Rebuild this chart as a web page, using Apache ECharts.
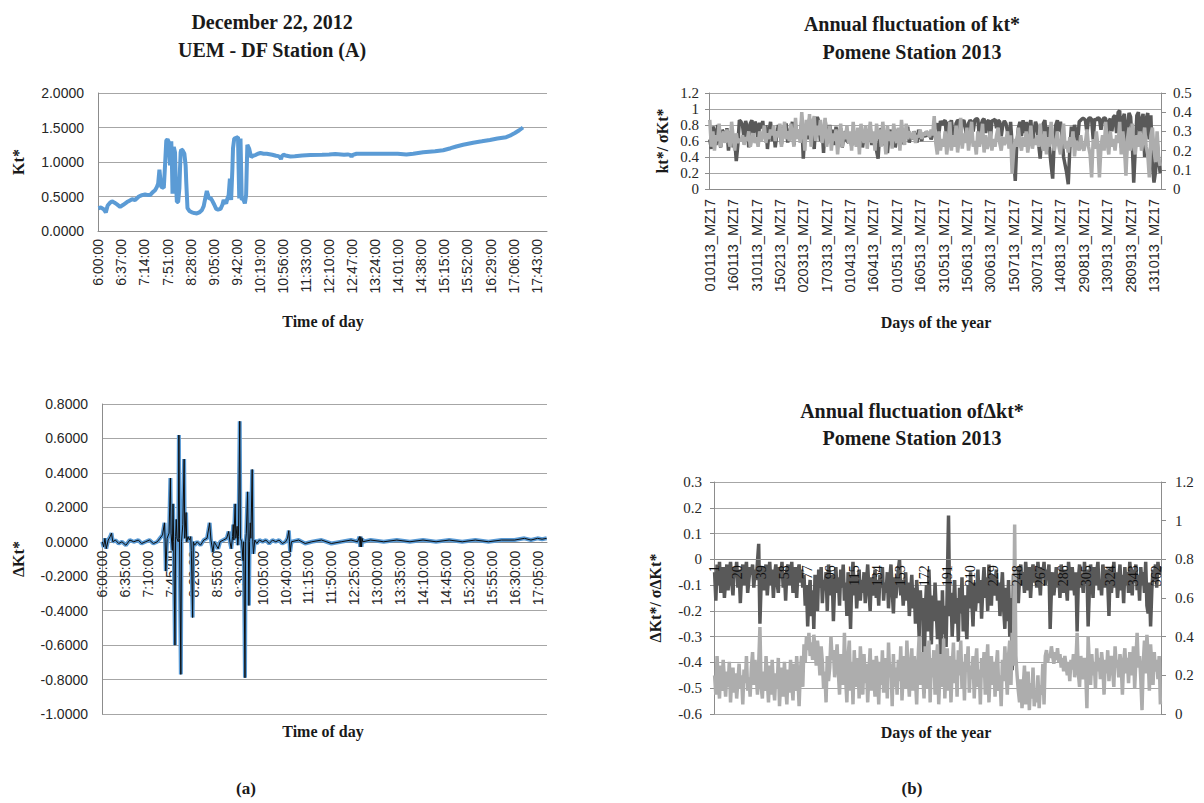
<!DOCTYPE html>
<html><head><meta charset="utf-8">
<script src="https://cdn.jsdelivr.net/npm/echarts@6/dist/echarts.min.js"></script>
<style>html,body{margin:0;padding:0;background:#fff}#c{width:1204px;height:803px}</style>
</head><body><div id="c"></div>
<script>
// ===== Panel (a) top: Kt*, Dec 22 2012 (minutes after 6:00) =====
const ktMinutes = [0,4,8,10,12,15,19,22,26,30,35,40,46,50,54,59,65,70,75,80,83,87,91,94,96,98,100,101,105,107,109,111,113,114,115,116,117,118,119,120,121,123,124,126,128,130,131,132,133,135,138,140,141,143,146,150,154,158,162,166,169,171,174,176,177,180,182,186,189,192,196,199,201,203,205,207,209,211,212,213,215,216,218,221,224,225,226,227,228,229,230,232,235,237,238,239,242,245,248,252,256,260,265,270,279,285,289,292,293,294,297,302,308,315,327,340,359,370,380,394,400,405,406,407,414,430,450,467,480,494,505,521,540,553,565,574,585,601,615,628,640,654,662,668,675,681];
const ktValues  = [0.33,0.34,0.32,0.30,0.27,0.37,0.41,0.43,0.41,0.385,0.35,0.38,0.42,0.44,0.46,0.45,0.50,0.52,0.53,0.52,0.52,0.56,0.59,0.64,0.69,0.89,0.70,0.64,0.625,0.95,1.31,1.33,1.29,1.10,0.95,1.20,1.30,1.00,0.54,0.90,1.22,1.14,0.80,0.42,0.42,0.62,0.90,1.14,1.18,1.17,1.12,0.95,0.71,0.33,0.29,0.27,0.26,0.255,0.27,0.30,0.36,0.45,0.58,0.52,0.47,0.48,0.45,0.38,0.32,0.31,0.32,0.38,0.45,0.42,0.40,0.47,0.52,0.76,0.50,0.45,0.90,1.20,1.34,1.35,1.36,0.90,0.47,0.90,1.34,0.90,0.45,0.47,0.40,0.52,0.90,1.25,1.19,1.07,1.09,1.10,1.12,1.13,1.12,1.12,1.105,1.09,1.085,1.06,1.04,1.08,1.105,1.09,1.08,1.085,1.095,1.10,1.105,1.11,1.115,1.105,1.11,1.10,1.07,1.10,1.12,1.12,1.12,1.12,1.12,1.11,1.12,1.14,1.155,1.17,1.20,1.225,1.25,1.28,1.30,1.32,1.34,1.36,1.39,1.42,1.46,1.50];
const ktCategoryCount = 720;   // 6:00 .. 17:59, one per minute
const ktLabelEvery = 37;

// ===== Panel (a) bottom: ΔKt* =====
const dktMinutes = [0,2,4,6,9,12,14,16,20,25,30,36,42,48,55,60,66,72,78,84,88,92,95,96,97,99,102,104,105,107,108,109,111,112,113,114,116,117,118,120,121,123,125,126,128,129,131,133,135,136,138,139,141,145,150,155,160,164,166,169,171,174,177,180,185,190,193,195,197,199,200,201,203,204,206,207,208,210,211,213,215,216,218,219,220,222,223,224,225,226,227,229,230,231,233,236,240,245,250,255,260,265,270,275,280,283,285,286,287,289,300,310,320,335,350,365,380,390,393,394,395,396,397,398,410,430,450,470,490,510,530,550,570,590,610,630,645,655,665,672,679];
const dktValues  = [0.00,-0.03,0.02,-0.04,0.01,0.03,0.05,0.00,0.01,-0.01,0.00,-0.02,0.01,0.00,0.01,-0.01,0.00,0.01,-0.01,0.00,0.02,0.04,0.11,0.00,-0.17,0.02,0.05,0.37,0.05,-0.05,0.22,0.00,-0.60,0.03,0.13,0.02,0.00,0.62,0.02,-0.77,0.00,0.10,0.48,0.02,0.17,0.00,0.03,0.01,0.03,-0.05,-0.44,0.00,-0.02,0.00,-0.02,0.01,0.02,0.11,0.01,-0.06,0.00,-0.02,-0.04,0.00,0.01,0.02,0.06,0.00,-0.04,0.03,0.10,0.01,0.22,0.02,0.09,-0.02,0.03,0.70,0.02,0.00,-0.11,0.00,-0.79,0.00,0.05,0.29,0.01,-0.37,0.00,0.11,0.02,0.42,0.00,-0.07,0.01,-0.01,0.01,0.00,0.01,-0.01,0.01,0.00,0.01,-0.01,0.00,0.02,0.065,0.00,-0.06,0.00,0.01,-0.01,0.00,0.01,-0.01,0.00,0.01,0.00,0.03,-0.03,0.03,-0.03,0.02,0.00,0.01,0.00,0.01,0.00,0.01,0.00,0.01,0.00,0.01,0.00,0.01,0.01,0.02,0.01,0.02,0.015,0.02];
const dktCategoryCount = 680;  // 6:00 .. 17:19
const dktLabelEvery = 35;

// ===== Panel (b) top: kt* and σKt*, Pomene 2013 (daily from 1 Jan) =====
const pomeneStartLabelSuffix = '13_MZ17';
const pomeneDays = 290;
const pomeneLabelEvery = 15;
const ktDaily = [
0.62,0.50,0.78,0.72,0.55,0.80,0.66,0.52,0.74,0.70,
0.58,0.76,0.48,0.68,0.73,0.52,0.62,0.35,0.55,0.86,
0.84,0.80,0.62,0.85,0.78,0.52,0.82,0.86,0.70,0.84,
0.80,0.58,0.83,0.76,0.85,0.64,0.80,0.50,0.72,0.84,
0.60,0.74,0.52,0.68,0.80,0.72,0.56,0.78,0.66,0.82,
0.58,0.75,0.70,0.84,0.55,0.80,0.68,0.74,0.62,0.85,
0.38,0.72,0.80,0.62,0.88,0.66,0.76,0.50,0.82,0.90,
0.84,0.60,0.78,0.45,0.86,0.70,0.58,0.80,0.66,0.74,
0.55,0.78,0.62,0.70,0.76,0.52,0.66,0.72,0.60,0.58,
0.68,0.54,0.72,0.62,0.56,0.74,0.60,0.70,0.52,0.66,
0.72,0.58,0.64,0.75,0.55,0.68,0.62,0.48,0.38,0.70,
0.76,0.62,0.55,0.72,0.45,0.68,0.74,0.58,0.70,0.52,
0.66,0.75,0.60,0.72,0.56,0.70,0.64,0.78,0.58,0.68,
0.62,0.72,0.66,0.58,0.74,0.68,0.60,0.70,0.65,0.72,
0.66,0.70,0.62,0.68,0.74,0.78,0.82,0.70,0.85,0.80,
0.84,0.86,0.62,0.84,0.80,0.86,0.70,0.58,0.82,0.86,
0.85,0.66,0.84,0.86,0.78,0.60,0.82,0.86,0.84,0.72,
0.86,0.88,0.87,0.64,0.80,0.86,0.88,0.70,0.84,0.86,
0.62,0.85,0.86,0.87,0.76,0.86,0.84,0.66,0.80,0.85,
0.82,0.72,0.60,0.84,0.55,0.40,0.10,0.58,0.76,0.84,
0.66,0.86,0.70,0.84,0.62,0.80,0.86,0.58,0.72,0.84,
0.78,0.56,0.38,0.70,0.82,0.86,0.62,0.78,0.50,0.30,
0.13,0.60,0.80,0.86,0.72,0.84,0.66,0.40,0.30,0.20,
0.06,0.50,0.78,0.62,0.80,0.72,0.58,0.84,0.86,0.88,
0.88,0.86,0.70,0.88,0.89,0.87,0.62,0.88,0.86,0.89,
0.88,0.74,0.86,0.89,0.88,0.60,0.84,0.88,0.72,0.90,
0.92,0.70,0.96,0.98,0.52,0.88,0.94,0.30,0.80,0.95,
0.90,0.60,0.08,0.50,0.92,0.96,0.70,0.86,0.94,0.40,
0.88,0.95,0.62,0.92,0.30,0.08,0.22,0.60,0.35,0.20];
const sigmaKtDaily = [
0.36,0.22,0.30,0.20,0.28,0.25,0.34,0.22,0.27,0.30,
0.24,0.31,0.26,0.22,0.35,0.27,0.20,0.29,0.24,0.26,
0.25,0.28,0.23,0.27,0.25,0.30,0.22,0.26,0.29,0.24,
0.27,0.22,0.30,0.25,0.28,0.33,0.24,0.29,0.26,0.31,
0.28,0.33,0.25,0.30,0.27,0.34,0.22,0.29,0.35,0.26,
0.30,0.25,0.34,0.28,0.22,0.37,0.26,0.31,0.24,0.40,
0.30,0.20,0.36,0.28,0.39,0.22,0.34,0.38,0.25,0.33,
0.28,0.36,0.24,0.30,0.37,0.22,0.27,0.33,0.20,0.29,
0.25,0.31,0.18,0.28,0.34,0.22,0.30,0.26,0.33,0.24,
0.30,0.20,0.35,0.26,0.22,0.32,0.18,0.34,0.28,0.24,
0.33,0.21,0.28,0.35,0.24,0.30,0.20,0.34,0.26,0.31,
0.22,0.35,0.27,0.18,0.33,0.25,0.30,0.21,0.34,0.27,
0.24,0.32,0.20,0.36,0.27,0.23,0.34,0.26,0.30,0.28,
0.26,0.30,0.24,0.28,0.27,0.31,0.26,0.29,0.28,0.30,
0.29,0.27,0.31,0.28,0.38,0.24,0.18,0.30,0.20,0.26,
0.22,0.30,0.18,0.25,0.35,0.20,0.28,0.22,0.33,0.19,
0.26,0.37,0.21,0.29,0.24,0.32,0.20,0.27,0.35,0.22,
0.25,0.18,0.30,0.22,0.26,0.34,0.19,0.28,0.21,0.24,
0.30,0.20,0.26,0.22,0.28,0.32,0.24,0.20,0.27,0.23,
0.25,0.30,0.21,0.28,0.08,0.20,0.26,0.22,0.32,0.24,
0.20,0.27,0.22,0.30,0.19,0.25,0.33,0.21,0.26,0.23,
0.28,0.22,0.34,0.24,0.20,0.30,0.18,0.27,0.22,0.35,
0.26,0.20,0.24,0.30,0.22,0.18,0.28,0.34,0.21,0.25,
0.19,0.27,0.22,0.30,0.17,0.25,0.23,0.20,0.28,0.22,
0.20,0.24,0.31,0.22,0.18,0.06,0.26,0.21,0.30,0.23,
0.06,0.22,0.28,0.20,0.35,0.24,0.18,0.30,0.22,0.26,
0.20,0.28,0.24,0.35,0.18,0.30,0.22,0.07,0.26,0.32,
0.20,0.34,0.24,0.18,0.28,0.22,0.30,0.20,0.25,0.32,
0.22,0.18,0.06,0.28,0.32,0.20,0.14,0.30,0.16,0.12];

// ===== Panel (b) bottom: Δkt* and σΔKt*, days 1..365 =====
const dayCount = 365;
const dayLabelEvery = 19;
const dktDaily = [
-0.05,-0.16,-0.02,-0.10,-0.01,-0.13,-0.06,-0.03,-0.15,-0.08,
-0.02,-0.12,-0.05,-0.01,-0.09,-0.14,-0.03,-0.07,-0.01,-0.11,
-0.04,-0.17,-0.06,-0.02,-0.10,-0.05,-0.01,-0.13,-0.08,-0.03,
-0.06,-0.02,-0.11,-0.04,-0.08,-0.01,0.06,-0.25,-0.09,-0.03,
-0.12,-0.05,-0.02,-0.14,-0.07,-0.01,-0.10,-0.04,-0.15,-0.06,
-0.02,-0.09,-0.13,-0.03,-0.07,-0.01,-0.11,-0.05,-0.16,-0.04,
-0.02,-0.10,-0.06,-0.01,-0.13,-0.08,-0.03,-0.15,-0.05,-0.02,
-0.09,-0.04,-0.11,-0.06,-0.18,-0.10,-0.26,-0.14,-0.08,-0.22,
-0.12,-0.27,-0.06,-0.15,-0.20,-0.04,-0.11,-0.03,-0.17,-0.08,
-0.12,-0.05,-0.20,-0.02,-0.09,-0.14,-0.06,-0.24,-0.10,-0.03,
-0.13,-0.07,-0.18,-0.04,-0.11,-0.02,-0.16,-0.09,-0.22,-0.05,
-0.12,-0.27,-0.08,-0.01,-0.14,-0.06,-0.19,-0.10,-0.04,-0.16,
-0.08,-0.13,-0.05,-0.17,-0.09,-0.02,-0.12,-0.20,-0.07,-0.14,
-0.10,-0.04,-0.15,-0.08,-0.18,-0.06,-0.11,-0.03,-0.16,-0.09,
-0.13,-0.05,-0.19,-0.08,-0.02,-0.12,-0.21,-0.07,-0.15,-0.10,
-0.04,0.00,-0.14,-0.08,-0.18,-0.11,-0.05,-0.16,-0.09,-0.22,
-0.13,-0.06,-0.19,-0.11,-0.25,-0.08,-0.17,-0.30,-0.12,-0.22,
-0.15,-0.52,-0.20,-0.10,-0.28,-0.04,-0.18,-0.33,-0.14,-0.24,
-0.09,-0.20,-0.31,-0.16,-0.26,-0.45,-0.12,-0.29,-0.18,-0.34,
-0.10,0.17,-0.22,-0.13,-0.30,-0.19,-0.08,-0.25,-0.15,-0.32,
-0.11,-0.21,-0.07,-0.28,-0.14,-0.24,-0.31,-0.10,-0.19,-0.05,
-0.16,-0.26,-0.09,-0.20,-0.13,-0.04,-0.17,-0.08,-0.23,-0.11,
-0.03,-0.15,-0.07,-0.20,-0.02,-0.12,-0.18,-0.06,-0.14,-0.10,
-0.04,-0.16,-0.09,-0.22,-0.13,-0.05,-0.19,-0.27,-0.11,-0.24,
-0.08,-0.30,-0.15,-0.43,-0.06,-0.20,-0.12,-0.03,-0.17,-0.07,
-0.02,-0.10,-0.05,-0.13,-0.01,-0.08,-0.12,-0.03,-0.15,-0.06,
-0.02,-0.09,-0.04,-0.11,-0.01,-0.07,-0.14,-0.03,-0.06,-0.01,
-0.10,-0.04,-0.08,-0.02,-0.27,-0.12,-0.05,-0.14,-0.09,-0.03,
-0.11,-0.06,-0.15,-0.02,-0.08,-0.13,-0.04,-0.10,-0.16,-0.01,
-0.07,-0.12,-0.03,-0.09,-0.14,-0.05,-0.28,-0.08,-0.02,-0.11,
-0.06,-0.13,-0.01,-0.09,-0.04,-0.26,-0.12,-0.02,-0.07,-0.15,
-0.03,-0.10,-0.05,-0.01,-0.12,-0.08,-0.14,-0.02,-0.06,-0.11,
-0.04,-0.09,-0.22,-0.03,-0.13,-0.07,-0.01,-0.11,-0.05,-0.15,
-0.08,-0.02,-0.12,-0.06,-0.17,-0.03,-0.10,-0.05,-0.13,-0.01,
-0.07,-0.14,-0.04,-0.09,-0.02,-0.12,-0.06,-0.16,-0.03,-0.10,
-0.05,-0.13,-0.01,-0.18,-0.21,-0.09,-0.26,-0.12,-0.04,-0.08,
-0.02,-0.11,-0.01,-0.06,-0.03];
const sigmaDktDaily = [
0.20,0.10,0.30,0.16,0.08,0.25,0.12,0.28,0.18,0.09,
0.22,0.14,0.27,0.06,0.19,0.24,0.11,0.21,0.08,0.17,
0.26,0.13,0.20,0.05,0.23,0.16,0.30,0.12,0.19,0.09,
0.24,0.32,0.15,0.28,0.20,0.10,0.26,0.45,0.14,0.08,
0.22,0.12,0.30,0.18,0.06,0.25,0.10,0.28,0.15,0.07,
0.21,0.13,0.29,0.04,0.18,0.24,0.09,0.27,0.14,0.05,
0.23,0.11,0.28,0.16,0.07,0.26,0.12,0.30,0.19,0.04,
0.22,0.30,0.14,0.36,0.27,0.40,0.33,0.42,0.30,0.37,
0.28,0.41,0.34,0.25,0.38,0.31,0.20,0.35,0.27,0.13,
0.22,0.06,0.30,0.17,0.24,0.40,0.28,0.33,0.19,0.26,
0.36,0.22,0.10,0.31,0.25,0.15,0.42,0.18,0.06,0.30,
0.38,0.12,0.27,0.05,0.33,0.20,0.14,0.29,0.08,0.35,
0.23,0.10,0.31,0.16,0.26,0.06,0.21,0.34,0.12,0.28,
0.18,0.09,0.30,0.24,0.05,0.27,0.15,0.33,0.11,0.22,
0.29,0.08,0.37,0.19,0.26,0.04,0.31,0.14,0.24,0.10,
0.28,0.17,0.35,0.07,0.22,0.30,0.13,0.38,0.20,0.09,
0.26,0.34,0.12,0.30,0.18,0.05,0.27,0.40,0.15,0.32,
0.21,0.08,0.35,0.25,0.13,0.38,0.06,0.29,0.19,0.33,
0.10,0.27,0.36,0.05,0.22,0.31,0.14,0.39,0.08,0.26,
0.34,0.12,0.30,0.06,0.24,0.37,0.16,0.28,0.09,0.33,
0.20,0.38,0.13,0.27,0.07,0.31,0.22,0.35,0.11,0.25,
0.18,0.30,0.08,0.26,0.34,0.14,0.23,0.05,0.29,0.19,
0.32,0.10,0.24,0.36,0.06,0.21,0.30,0.15,0.27,0.09,
0.25,0.33,0.12,0.20,0.04,0.28,0.17,0.35,0.22,0.10,
0.30,0.38,0.15,0.42,0.25,0.98,0.30,0.20,0.12,0.06,
0.18,0.03,0.14,0.25,0.05,0.10,0.22,0.02,0.16,0.08,
0.24,0.04,0.12,0.06,0.20,0.03,0.15,0.10,0.26,0.05,
0.30,0.33,0.27,0.31,0.29,0.35,0.30,0.26,0.32,0.28,
0.34,0.27,0.31,0.24,0.29,0.22,0.30,0.25,0.20,0.27,
0.17,0.28,0.23,0.31,0.19,0.26,0.42,0.21,0.14,0.30,
0.24,0.18,0.29,0.22,0.03,0.40,0.26,0.15,0.31,0.20,
0.27,0.13,0.34,0.22,0.29,0.18,0.32,0.25,0.10,0.28,
0.21,0.33,0.17,0.26,0.30,0.22,0.14,0.35,0.24,0.28,
0.19,0.31,0.25,0.10,0.27,0.34,0.21,0.29,0.16,0.32,
0.26,0.20,0.35,0.13,0.28,0.42,0.24,0.30,0.18,0.02,
0.26,0.38,0.21,0.41,0.30,0.12,0.36,0.25,0.15,0.32,
0.22,0.28,0.18,0.30,0.05];

// ===== category builders =====
function timeCategories(n) {
  const out = [];
  for (let i = 0; i < n; i++) { const t = 360 + i; out.push(Math.floor(t / 60) + ':' + String(t % 60).padStart(2, '0') + ':00'); }
  return out;
}
const monthLengths2013 = [31,28,31,30,31,30,31,31,30,31,30,31];
function dateCategories(n) {
  const out = []; let m = 0, d = 1;
  for (let i = 0; i < n; i++) {
    out.push(String(d).padStart(2, '0') + String(m + 1).padStart(2, '0') + pomeneStartLabelSuffix);
    d++; if (d > monthLengths2013[m]) { d = 1; m++; }
  }
  return out;
}
function dayNumberCategories(n) { const out = []; for (let i = 1; i <= n; i++) out.push(String(i)); return out; }
const pairs = (xs, ys) => xs.map((x, i) => [x, ys[i]]);

const catKt = timeCategories(ktCategoryCount);
const catDkt = timeCategories(dktCategoryCount);
const catPomene = dateCategories(pomeneDays);
const catDays = dayNumberCategories(dayCount);

// ===== layout =====
const gridA1 = { left: 98, top: 93, width: 449, height: 138 };
const gridA2 = { left: 102, top: 404, width: 445, height: 310 };
const gridB1 = { left: 709, top: 93, width: 452, height: 96 };
const gridB2 = { left: 714, top: 482, width: 447, height: 232 };
const yA2 = { min: -1, max: 0.8, step: 0.2 };
const yB2 = { min: -0.6, max: 0.3, step: 0.1 };
// x axes of the two Δ charts cross the value axis at zero (as in the original)
const zeroOffset = (g, y) => -g.height * (0 - y.min) / (y.max - y.min);

// ===== styles =====
const SANS = '"Liberation Sans", Arial, sans-serif';
const SERIF = '"Liberation Serif", "DejaVu Serif", serif';
const TXT = '#262626';
const GRID = '#a6a6a6';
const AXIS = '#8c8c8c';
const BLUE = '#5b9bd5';
const DARK = '#595959';
const LIGHT = '#adadad';

const split = { show: true, lineStyle: { color: GRID, width: 1 } };
const axLine = { show: true, onZero: false, lineStyle: { color: AXIS, width: 1 } };

function catAxis(grid, data, every, font, size, margin, extra) {
  return Object.assign({
    gridIndex: grid, type: 'category', data: data, boundaryGap: true,
    axisLine: axLine, axisTick: { show: false }, splitLine: { show: false },
    axisLabel: { interval: every - 1, rotate: 90, margin: margin, fontFamily: font, fontSize: size, color: TXT }
  }, extra || {});
}
function valAxis(grid, min, max, step, font, size, margin, fmt, extra) {
  return Object.assign({
    gridIndex: grid, type: 'value', min: min, max: max, interval: step,
    axisLine: axLine, axisTick: { show: false }, splitLine: split,
    axisLabel: { margin: margin, fontFamily: font, fontSize: size, color: TXT, formatter: fmt }
  }, extra || {});
}
const f4 = v => v.toFixed(4);
const fPlain = v => String(Math.round(v * 10) / 10);

function txt(x, y, s, font, rot) {
  return { type: 'text', x: x, y: y, rotation: rot || 0, silent: true,
    style: { text: s, font: font, fill: '#1a1a1a', align: 'center', verticalAlign: 'middle', textAlign: 'center', textVerticalAlign: 'middle' } };
}
const TITLE = 'bold 20px ' + SERIF;
const AXT = 'bold 16px ' + SERIF;

const chart = echarts.init(document.getElementById('c'), null, { renderer: 'svg' });
chart.setOption({
  animation: false,
  backgroundColor: '#ffffff',
  grid: [gridA1, gridA2, gridB1, gridB2],
  xAxis: [
    catAxis(0, catKt, ktLabelEvery, SANS, 14, 8),
    catAxis(1, catDkt, dktLabelEvery, SANS, 14, 9, { offset: zeroOffset(gridA2, yA2) }),
    catAxis(2, catPomene, pomeneLabelEvery, SANS, 14.5, 10),
    catAxis(3, catDays, dayLabelEvery, SERIF, 14, 6, { z: 20, zlevel: 0,
      axisLabel: { interval: dayLabelEvery - 1, rotate: 90, margin: 6, fontFamily: SERIF, fontSize: 14, color: '#111' },
      offset: zeroOffset(gridB2, yB2) })
  ],
  yAxis: [
    valAxis(0, 0, 2, 0.5, SANS, 14, 14, f4),
    valAxis(1, yA2.min, yA2.max, yA2.step, SANS, 14, 14, f4),
    valAxis(2, 0, 1.2, 0.2, SERIF, 15, 10, fPlain, { axisTick: { show: true, length: 4, lineStyle: { color: AXIS } } }),
    valAxis(2, 0, 0.5, 0.1, SERIF, 15, 12, fPlain, { position: 'right', splitLine: { show: false }, axisTick: { show: true, length: 5, lineStyle: { color: AXIS } } }),
    valAxis(3, yB2.min, yB2.max, yB2.step, SERIF, 15, 12, fPlain, { axisTick: { show: true, length: 4, lineStyle: { color: AXIS } } }),
    valAxis(3, 0, 1.2, 0.2, SERIF, 15, 14, fPlain, { position: 'right', splitLine: { show: false }, axisTick: { show: true, length: 5, lineStyle: { color: AXIS } } })
  ],
  series: [
    { name: 'Kt*', type: 'line', xAxisIndex: 0, yAxisIndex: 0, data: pairs(ktMinutes, ktValues), showSymbol: false, lineStyle: { color: BLUE, width: 4 }, itemStyle: { color: BLUE } },
    { name: 'ΔKt* (band)', type: 'line', xAxisIndex: 1, yAxisIndex: 1, data: pairs(dktMinutes, dktValues), showSymbol: false, lineStyle: { color: BLUE, width: 4 }, itemStyle: { color: BLUE } },
    { name: 'ΔKt*', type: 'line', xAxisIndex: 1, yAxisIndex: 1, data: pairs(dktMinutes, dktValues), showSymbol: false, lineStyle: { color: '#0d0d0d', width: 1 }, itemStyle: { color: '#0d0d0d' } },
    { name: 'kt*', type: 'line', xAxisIndex: 2, yAxisIndex: 2, data: ktDaily, showSymbol: false, lineStyle: { color: DARK, width: 3.5 }, itemStyle: { color: DARK } },
    { name: 'σKt*', type: 'line', xAxisIndex: 2, yAxisIndex: 3, data: sigmaKtDaily, showSymbol: false, lineStyle: { color: LIGHT, width: 3.5 }, itemStyle: { color: LIGHT } },
    { name: 'Δkt*', type: 'line', xAxisIndex: 3, yAxisIndex: 4, z: 2, data: dktDaily, showSymbol: false, lineStyle: { color: DARK, width: 3.5 }, itemStyle: { color: DARK } },
    { name: 'σΔKt*', type: 'line', xAxisIndex: 3, yAxisIndex: 5, z: 2, data: sigmaDktDaily, showSymbol: false, lineStyle: { color: LIGHT, width: 3.5 }, itemStyle: { color: LIGHT } }
  ],
  graphic: [
    txt(272, 22, 'December 22, 2012', TITLE),
    txt(272, 50, 'UEM - DF Station (A)', TITLE),
    txt(912, 24, 'Annual fluctuation of kt*', TITLE),
    txt(912, 52, 'Pomene Station 2013', TITLE),
    txt(912, 411, 'Annual fluctuation ofΔkt*', TITLE),
    txt(912, 438, 'Pomene Station 2013', TITLE),
    txt(323, 321, 'Time of day', AXT),
    txt(323, 731, 'Time of day', AXT),
    txt(936, 322, 'Days of the year', AXT),
    txt(936, 732, 'Days of the year', AXT),
    txt(18, 162, 'Kt*', AXT, Math.PI / 2),
    txt(18, 559, 'ΔKt*', AXT, Math.PI / 2),
    txt(662, 141, 'kt*/ σKt*', AXT, Math.PI / 2),
    txt(655, 598, 'ΔKt*/ σΔKt*', AXT, Math.PI / 2),
    txt(246, 788, '(a)', 'bold 17px ' + SERIF),
    txt(912, 788, '(b)', 'bold 17px ' + SERIF)
  ]
});
</script>
</body></html>
